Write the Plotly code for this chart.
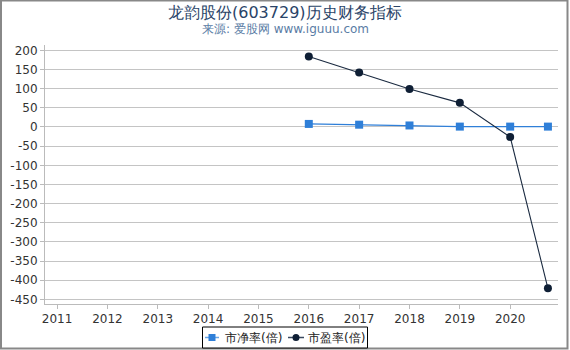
import plotly.graph_objects as go

years = [2016, 2017, 2018, 2019, 2020, 2020.75]
pb = [8, 6, 4, 1, 1, 1]
pe = [184, 142, 99, 63, -26, -421]
tick_years = [2011, 2012, 2013, 2014, 2015, 2016, 2017, 2018, 2019, 2020]
y_ticks = list(range(-450, 201, 50))
series_names = ["市净率(倍)", "市盈率(倍)"]
colors = ["#2f7fd8", "#0f1f35"]

W, H = 570, 350
ml, mr, mt, mb = 45, 12, 45, 46
pw, ph = W - ml - mr, H - mt - mb


def px_x(v):
    return (v - ml) / pw


def px_y(v):
    return (H - mb - v) / ph


fig = go.Figure()
fig.add_trace(go.Scatter(x=years, y=pb, name=series_names[0], mode="lines+markers",
                         line=dict(color=colors[0], width=1.3),
                         marker=dict(symbol="square", size=8, color=colors[0]),
                         showlegend=False))
fig.add_trace(go.Scatter(x=years, y=pe, name=series_names[1], mode="lines+markers",
                         line=dict(color="#1a2a40", width=1.1),
                         marker=dict(symbol="circle", size=8, color=colors[1]),
                         showlegend=False))

shapes = [
    # outer frame
    dict(type="rect", xref="paper", yref="paper",
         x0=px_x(1), x1=px_x(567.5), y0=px_y(348.5), y1=px_y(0.5),
         line=dict(color="#888", width=2), layer="above"),
    # legend box
    dict(type="rect", xref="paper", yref="paper",
         x0=px_x(202.5), x1=px_x(367.5), y0=px_y(348), y1=px_y(327),
         line=dict(color="black", width=1), fillcolor="white", layer="above"),
    # legend item 1
    dict(type="line", xref="paper", yref="paper",
         x0=px_x(205), x1=px_x(219), y0=px_y(337.5), y1=px_y(337.5),
         line=dict(color="#6aa6e6", width=1.5), layer="above"),
    dict(type="rect", xref="paper", yref="paper",
         x0=px_x(208.5), x1=px_x(215.5), y0=px_y(341), y1=px_y(334),
         line=dict(color=colors[0], width=0), fillcolor=colors[0], layer="above"),
    # legend item 2
    dict(type="line", xref="paper", yref="paper",
         x0=px_x(288), x1=px_x(304), y0=px_y(337.5), y1=px_y(337.5),
         line=dict(color="#3a4a60", width=1.5), layer="above"),
    dict(type="circle", xref="paper", yref="paper",
         x0=px_x(292.5), x1=px_x(299.5), y0=px_y(341), y1=px_y(334),
         line=dict(color=colors[1], width=0), fillcolor=colors[1], layer="above"),
]

annotations = [
    dict(text="龙韵股份(603729)历史财务指标", x=0.5 * (px_x(0) + px_x(W)), xref="paper", y=px_y(12), yref="paper",
         xanchor="center", yanchor="middle", showarrow=False,
         font=dict(size=16, color="#2a4468", family="DejaVu Sans")),
    dict(text="来源: 爱股网 www.iguuu.com", x=0.5 * (px_x(0) + px_x(W)), xref="paper", y=px_y(29), yref="paper",
         xanchor="center", yanchor="middle", showarrow=False,
         font=dict(size=12, color="#5a7ca5", family="DejaVu Sans")),
    dict(text=series_names[0], x=px_x(223), xref="paper", y=px_y(337.5), yref="paper",
         xanchor="left", yanchor="middle", showarrow=False,
         font=dict(size=12, color="#222", family="DejaVu Sans")),
    dict(text=series_names[1], x=px_x(306), xref="paper", y=px_y(337.5), yref="paper",
         xanchor="left", yanchor="middle", showarrow=False,
         font=dict(size=12, color="#222", family="DejaVu Sans")),
]

fig.update_layout(
    width=W, height=H,
    margin=dict(l=ml, r=mr, t=mt, b=mb, autoexpand=False),
    paper_bgcolor="white", plot_bgcolor="white",
    font=dict(family="DejaVu Sans", size=11, color="#333"),
    showlegend=False,
    annotations=annotations,
    shapes=shapes,
)
fig.update_xaxes(range=[2010.76, 2020.95], tickvals=tick_years, ticktext=[str(t) for t in tick_years],
                 showgrid=False, showline=True, linecolor="#bbb", ticks="outside", ticklen=4,
                 tickcolor="#bbb", zeroline=False, tickfont=dict(size=12, color="#333"))
fig.update_yaxes(range=[-462, 214], tickvals=y_ticks, ticktext=[str(v) for v in y_ticks],
                 showgrid=True, gridcolor="#c4c4c4",
                 showline=True, linecolor="#bbb", ticks="outside", ticklen=4, tickcolor="#bbb",
                 zeroline=False, tickfont=dict(size=12, color="#333"))

fig.write_html("out.html")
